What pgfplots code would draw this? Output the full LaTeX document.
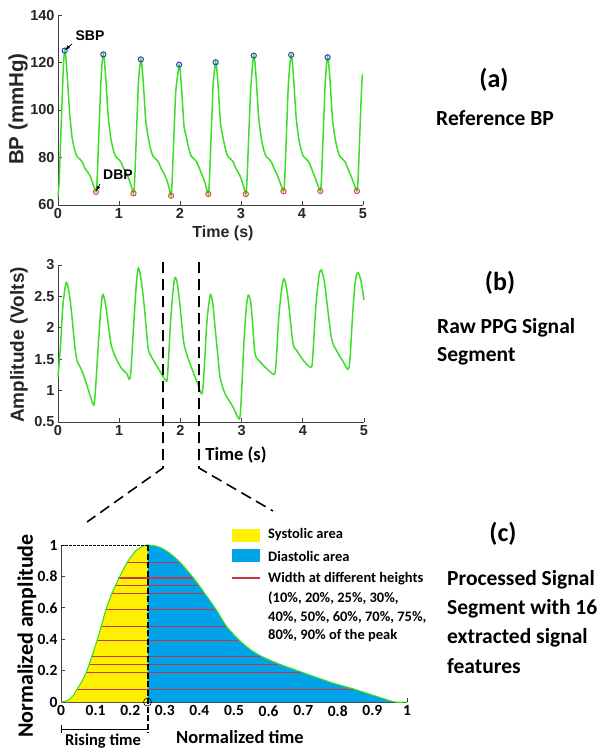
\documentclass[border=0pt]{standalone}
\usepackage{pgfplots}
\pgfplotsset{compat=1.18}
\usepackage{fontspec}
\setmainfont{Carlito}
\newfontfamily\arialf{Liberation Sans}
\newfontfamily\calf{Carlito}
\definecolor{sig}{RGB}{60,222,40}
\definecolor{sbpc}{RGB}{50,60,200}
\definecolor{dbpc}{RGB}{225,70,70}
\definecolor{sysc}{RGB}{255,240,0}
\definecolor{diac}{RGB}{0,162,232}
\definecolor{widc}{RGB}{195,55,65}

\pgfplotsset{
  matax/.style={scale only axis, anchor=south west, clip=false,
    axis x line*=bottom, axis y line*=left, tick align=inside,
    major tick length=4pt,
    axis line style={-, black!75, line width=0.8pt},
    tick style={black!75, line width=0.8pt},
    ticklabel style={font=\arialf\bfseries\fontsize{14.5}{14.5}\selectfont, text=black!85},
    /pgf/number format/assume math mode=true},
}

\begin{document}
\begin{tikzpicture}
\path[use as bounding box] (0,0) rectangle (604pt,-752pt);

% (a) reference BP
\begin{axis}[matax, at={(58pt,-205pt)}, width=305pt, height=190pt,
  xmin=0, xmax=5, ymin=60, ymax=140, xtick={0,1,...,5}, ytick={60,80,...,140}]
\addplot[sig, line width=1.5pt, smooth, tension=0.3] coordinates {
(0,63.5)(0.02,70)(0.05,92)(0.08,113)(0.095,121.5)(0.11,125)
(0.125,123)(0.15,115)(0.19,99)(0.23,88.5)(0.27,83.5)(0.31,80.5)(0.36,79.3)(0.40,78)(0.44,75.5)(0.522,72.5)(0.572,69)(0.622,65.5)
(0.640,70)(0.670,90)(0.700,110)(0.723,119.9)(0.743,123.4)
(0.758,121.4)(0.783,113.4)(0.823,97.4)(0.863,88.5)(0.903,83.5)(0.943,80.5)(0.993,79.3)(1.033,78)(1.073,75.5)(1.138,72.5)(1.188,69)(1.238,64.9)
(1.256,70)(1.286,90)(1.316,110)(1.339,117.8)(1.359,121.3)
(1.374,119.3)(1.399,111.3)(1.439,95.3)(1.479,88.5)(1.519,83.5)(1.559,80.5)(1.609,79.3)(1.649,78)(1.689,75.5)(1.753,72.5)(1.803,69)(1.853,63.9)
(1.871,70)(1.901,90)(1.931,108)(1.966,115.6)(1.986,119.1)
(2.001,117.1)(2.026,109.1)(2.066,93.1)(2.106,88.5)(2.146,83.5)(2.186,80.5)(2.236,79.3)(2.276,78)(2.316,75.5)(2.364,72.5)(2.414,69)(2.464,64.6)
(2.482,70)(2.512,90)(2.542,110)(2.565,116.6)(2.585,120.1)
(2.600,118.1)(2.625,110.1)(2.665,94.1)(2.705,88.5)(2.745,83.5)(2.785,80.5)(2.835,79.3)(2.875,78)(2.915,75.5)(2.980,72.5)(3.030,69)(3.080,64.6)
(3.098,70)(3.128,90)(3.158,108)(3.19,119.4)(3.21,122.9)
(3.225,120.9)(3.250,112.9)(3.290,96.9)(3.330,88.5)(3.370,83.5)(3.410,80.5)(3.460,79.3)(3.500,78)(3.540,75.5)(3.597,72.5)(3.647,69)(3.697,65.8)
(3.715,70)(3.745,90)(3.775,110)(3.803,119.7)(3.823,123.2)
(3.838,121.2)(3.863,113.2)(3.903,97.2)(3.943,88.5)(3.983,83.5)(4.023,80.5)(4.073,79.3)(4.113,78)(4.153,75.5)(4.200,72.5)(4.250,69)(4.300,65.9)
(4.318,70)(4.348,90)(4.378,110)(4.40,118.7)(4.42,122.2)
(4.435,120.2)(4.460,112.2)(4.500,96.2)(4.540,88.5)(4.580,83.5)(4.620,80.5)(4.670,79.3)(4.710,78)(4.750,75.5)(4.800,72.5)(4.850,69)(4.900,65.9)
(4.918,70)(4.948,90)(4.975,108)(4.99,115)};
\addplot[only marks, mark=o, mark size=2.6pt, mark options={sbpc, line width=1pt}] coordinates {
(0.11,125)(0.743,123.4)(1.359,121.3)(1.986,119.1)(2.585,120.1)(3.21,122.9)(3.823,123.2)(4.42,122.2)};
\addplot[only marks, mark=o, mark size=2.6pt, mark options={dbpc, line width=1pt}] coordinates {
(0.622,65.5)(1.238,64.9)(1.853,63.9)(2.464,64.6)(3.08,64.6)(3.697,65.8)(4.30,65.9)(4.90,65.9)};
\end{axis}

% (b) raw PPG
\begin{axis}[matax, at={(58pt,-422pt)}, width=306pt, height=157pt,
  xmin=0, xmax=5, ymin=0.5, ymax=3, xtick={0,1,...,5}, ytick={0.5,1,...,3}]
\addplot[sig, line width=1.5pt, smooth, tension=0.5] coordinates {
(0,1.22)(0.04,1.7)(0.08,2.35)(0.136,2.72)(0.19,2.5)(0.228,2.18)(0.27,1.75)(0.31,1.48)(0.36,1.38)(0.42,1.24)(0.5,1.0)(0.57,0.79)
(0.6,0.85)(0.65,1.6)(0.7,2.3)(0.734,2.53)(0.78,2.35)(0.826,2.02)(0.87,1.72)(0.897,1.64)(0.935,1.54)(1.04,1.35)(1.125,1.27)(1.163,1.18)
(1.19,1.3)(1.24,2.1)(1.28,2.7)(1.315,2.95)(1.36,2.75)(1.41,2.34)(1.45,1.9)(1.48,1.64)(1.56,1.48)(1.66,1.32)(1.76,1.16)
(1.79,1.25)(1.84,2.1)(1.88,2.6)(1.913,2.8)(1.95,2.7)(1.995,2.34)(2.05,1.8)(2.10,1.59)(2.2,1.32)(2.29,1.09)(2.35,0.95)
(2.38,1.2)(2.43,2.05)(2.47,2.42)(2.495,2.53)(2.53,2.38)(2.565,2.02)(2.62,1.48)(2.65,1.2)(2.73,0.95)(2.86,0.74)(2.96,0.55)
(2.99,0.8)(3.04,1.8)(3.08,2.35)(3.11,2.52)(3.15,2.4)(3.18,2.07)(3.22,1.59)(3.30,1.46)(3.41,1.35)(3.53,1.26)
(3.56,1.4)(3.61,2.2)(3.66,2.65)(3.696,2.78)(3.74,2.6)(3.78,2.28)(3.84,1.75)(3.90,1.64)(4.01,1.48)(4.13,1.37)
(4.16,1.5)(4.21,2.3)(4.26,2.8)(4.30,2.92)(4.35,2.75)(4.39,2.44)(4.47,1.83)(4.55,1.64)(4.66,1.46)(4.74,1.34)
(4.77,1.5)(4.82,2.3)(4.86,2.75)(4.90,2.88)(4.95,2.75)(5.0,2.44)};
\end{axis}

% (c) processed segment
\begin{axis}[matax, at={(61pt,-702pt)}, width=346pt, height=157pt,
  xmin=0, xmax=1, ymin=0, ymax=1, xtick={0,0.1,...,1}, ytick={0,0.2,...,1},
  ticklabel style={font=\calf\bfseries\fontsize{15.5}{15.5}\selectfont, text=black}]
\addplot[fill=sysc, draw=none, smooth, tension=0.4] coordinates {
(0,0)(0.02,0.01)(0.035,0.04)(0.046,0.08)(0.06,0.13)(0.073,0.19)(0.08,0.23)(0.089,0.29)(0.104,0.39)(0.116,0.48)
(0.13,0.59)(0.145,0.68)(0.157,0.74)(0.168,0.79)(0.19,0.885)(0.215,0.96)(0.235,0.99)(0.25,1)} \closedcycle;
\addplot[fill=diac, draw=none, smooth, tension=0.4] coordinates {
(0.25,1)(0.28,0.99)(0.31,0.955)(0.344,0.89)(0.383,0.79)(0.40,0.74)(0.416,0.69)(0.448,0.59)(0.479,0.48)(0.517,0.39)
(0.55,0.33)(0.58,0.29)(0.633,0.24)(0.696,0.19)(0.78,0.125)(0.85,0.08)(0.92,0.03)(0.965,0)} \closedcycle;
\addplot[widc, line width=1.1pt] coordinates {(0.19,0.89)(0.344,0.89)};
\addplot[widc, line width=1.1pt] coordinates {(0.165,0.79)(0.383,0.79)};
\addplot[widc, line width=1.1pt] coordinates {(0.157,0.74)(0.40,0.74)};
\addplot[widc, line width=1.1pt] coordinates {(0.146,0.69)(0.416,0.69)};
\addplot[widc, line width=1.1pt] coordinates {(0.13,0.59)(0.448,0.59)};
\addplot[widc, line width=1.1pt] coordinates {(0.116,0.48)(0.479,0.48)};
\addplot[widc, line width=1.1pt] coordinates {(0.104,0.39)(0.517,0.39)};
\addplot[widc, line width=1.1pt] coordinates {(0.089,0.29)(0.58,0.29)};
\addplot[widc, line width=1.1pt] coordinates {(0.081,0.24)(0.633,0.24)};
\addplot[widc, line width=1.1pt] coordinates {(0.073,0.19)(0.696,0.19)};
\addplot[widc, line width=1.1pt] coordinates {(0.046,0.08)(0.85,0.08)};
\addplot[sig, line width=1.1pt, smooth, tension=0.4] coordinates {
(0,0)(0.02,0.01)(0.035,0.04)(0.046,0.08)(0.06,0.13)(0.073,0.19)(0.08,0.23)(0.089,0.29)(0.104,0.39)(0.116,0.48)
(0.13,0.59)(0.145,0.68)(0.157,0.74)(0.168,0.79)(0.19,0.885)(0.215,0.96)(0.235,0.99)(0.25,1)
(0.28,0.99)(0.31,0.955)(0.344,0.89)(0.383,0.79)(0.40,0.74)(0.416,0.69)(0.448,0.59)(0.479,0.48)(0.517,0.39)
(0.55,0.33)(0.58,0.29)(0.633,0.24)(0.696,0.19)(0.78,0.125)(0.85,0.08)(0.92,0.03)(0.965,0)(1,0)};
\end{axis}

% annotations (a)
\node[font=\arialf\bfseries\fontsize{14}{14}\selectfont] at (90pt,-36pt) {SBP};
\node[font=\arialf\bfseries\fontsize{14}{14}\selectfont] at (118pt,-175pt) {DBP};
\draw[-latex, line width=0.8pt] (72pt,-44pt) -- (65pt,-50pt);
\draw[-latex, line width=0.8pt] (100pt,-184pt) -- (96pt,-191pt);

% axis titles
\node[rotate=90, text=black!85] at (18pt,-109pt) {\arialf\bfseries\fontsize{20.5}{22}\selectfont BP (mmHg)};
\node[text=black!85] at (223pt,-233pt) {\arialf\bfseries\fontsize{16}{16}\selectfont Time (s)};
\node[rotate=90, text=black!85] at (19pt,-345pt) {\arialf\bfseries\fontsize{19}{21}\selectfont Amplitude (Volts)};
\node at (236pt,-455pt) {\calf\bfseries\fontsize{18.5}{18.5}\selectfont Time (s)};
\node[rotate=90] at (27pt,-636pt) {\calf\bfseries\fontsize{22}{22}\selectfont Normalized amplitude};
\node at (240pt,-737pt) {\calf\bfseries\fontsize{18.5}{18.5}\selectfont Normalized time};
\node at (103pt,-741pt) {\calf\bfseries\fontsize{16.5}{16.5}\selectfont Rising time};

% zoom connectors
\draw[black, line width=1.6pt, dash pattern=on 11pt off 6pt] (163pt,-262pt) -- (163pt,-468pt) -- (87pt,-522pt);
\draw[black, line width=1.6pt, dash pattern=on 11pt off 6pt] (199pt,-262pt) -- (199pt,-468pt) -- (273pt,-511pt);

% (c) markers of rise time
\draw[black, line width=0.7pt, dash pattern=on 2.5pt off 1.5pt] (61pt,-545pt) -- (147.5pt,-545pt);
\draw[black, line width=2pt, dash pattern=on 6pt off 2.5pt] (147.5pt,-545pt) -- (147.5pt,-733pt);
\draw[black, line width=0.6pt] (147.5pt,-702pt) circle (4pt);
\draw[black, line width=0.8pt] (61pt,-729pt) -- (147.5pt,-729pt);
\draw[black, line width=0.8pt] (61pt,-725pt) -- (61pt,-733pt);

% (c) legend
\fill[sysc] (232pt,-529pt) rectangle (260pt,-542pt);
\fill[diac] (232pt,-549pt) rectangle (260pt,-562pt);
\draw[widc, line width=1.1pt] (232pt,-578pt) -- (260pt,-578pt);
\begin{scope}[every node/.style={anchor=west, inner sep=0pt, font=\calf\bfseries\fontsize{14.5}{14.5}\selectfont}]
\node at (268pt,-535pt) {Systolic area};
\node at (268pt,-556pt) {Diastolic area};
\node at (268pt,-579pt) {Width at different heights};
\node at (268pt,-598pt) {(10\%, 20\%, 25\%, 30\%,};
\node at (268pt,-617pt) {40\%, 50\%, 60\%, 70\%, 75\%,};
\node at (268pt,-636pt) {80\%, 90\% of the peak};
\end{scope}

% right-hand captions
\begin{scope}[every node/.style={font=\calf\bfseries\fontsize{21.5}{21.5}\selectfont}]
\node[font=\calf\bfseries\fontsize{26}{26}\selectfont] at (494pt,-80pt) {(a)};
\node[anchor=west, inner sep=0pt] at (436pt,-118pt) {Reference BP};
\node[font=\calf\bfseries\fontsize{26}{26}\selectfont] at (500pt,-283pt) {(b)};
\node[anchor=west, inner sep=0pt] at (437pt,-328pt) {Raw PPG Signal};
\node[anchor=west, inner sep=0pt] at (437pt,-356pt) {Segment};
\node[font=\calf\bfseries\fontsize{26}{26}\selectfont] at (503pt,-534pt) {(c)};
\node[anchor=west, inner sep=0pt] at (447pt,-580pt) {Processed Signal};
\node[anchor=west, inner sep=0pt] at (447pt,-609pt) {Segment with 16};
\node[anchor=west, inner sep=0pt] at (447pt,-638pt) {extracted signal};
\node[anchor=west, inner sep=0pt] at (447pt,-666pt) {features};
\end{scope}
\end{tikzpicture}
\end{document}
